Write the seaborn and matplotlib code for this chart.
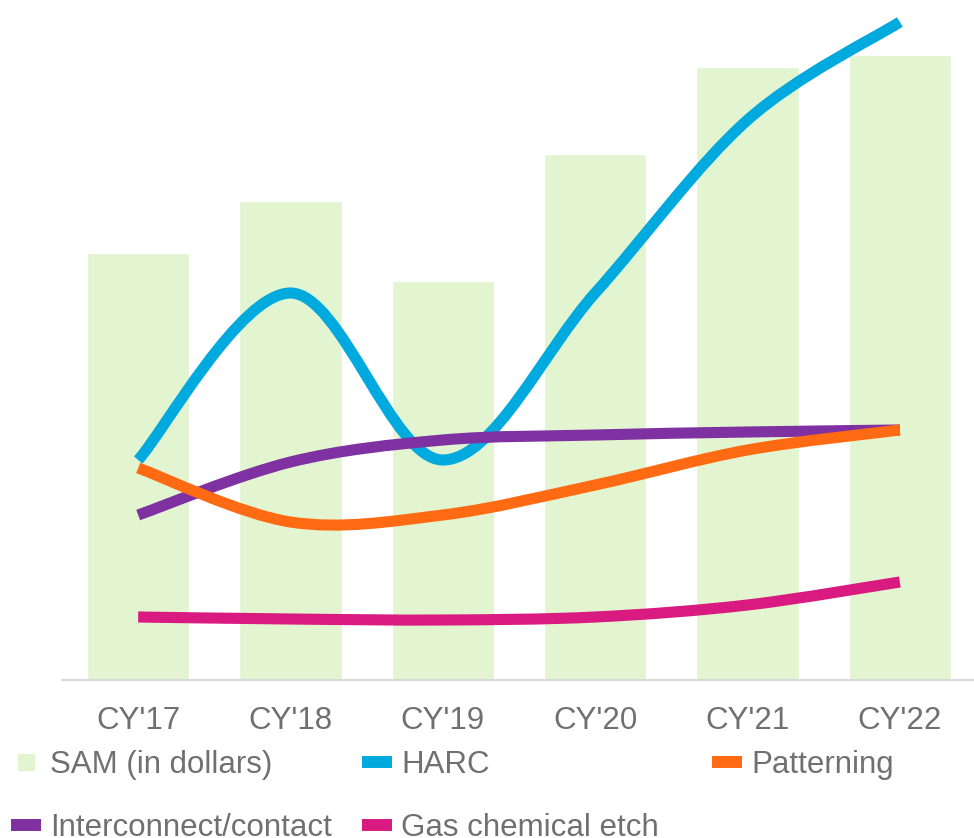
import matplotlib
matplotlib.use("Agg")
import matplotlib.pyplot as plt
import numpy as np
import pandas as pd
import seaborn as sns
from matplotlib.path import Path
from matplotlib.patches import PathPatch
from matplotlib.lines import Line2D

# Data (arbitrary units)
years = ["CY'17", "CY'18", "CY'19", "CY'20", "CY'21", "CY'22"]
sam = [4.27, 4.79, 3.99, 5.26, 6.13, 6.25]
harc = [2.20, 3.87, 2.20, 3.87, 5.60, 6.58]
patterning = [2.12, 1.58, 1.65, 1.95, 2.30, 2.50]
interconnect = [1.65, 2.18, 2.40, 2.45, 2.48, 2.50]
gas_etch = [0.63, 0.61, 0.60, 0.63, 0.75, 0.98]

GREEN = "#e2f5d0"
BLUE = "#00a9de"
ORANGE = "#ff6a13"
PURPLE = "#7f30a1"
MAGENTA = "#d91a80"
TEXT = "#707070"

sns.set_style("white")
plt.rcParams["font.family"] = ["Liberation Sans", "DejaVu Sans"]

fig = plt.figure(figsize=(9.74, 8.38), dpi=100)
ax = fig.add_axes([62 / 974, 1 - 680 / 838, 914 / 974, 680 / 838])

df = pd.DataFrame({"year": years, "sam": sam})
sns.barplot(data=df, x="year", y="sam", color=GREEN, width=0.67, saturation=1, ax=ax)


def smooth_path(xs, ys, t=1 / 6):
    """Excel-like smoothed line: cubic Bezier segments through the points."""
    pts = np.column_stack([xs, ys]).astype(float)
    n = len(pts)
    verts = [pts[0]]
    codes = [Path.MOVETO]
    for i in range(n - 1):
        p0 = pts[max(i - 1, 0)]
        p1 = pts[i]
        p2 = pts[i + 1]
        p3 = pts[min(i + 2, n - 1)]
        verts += [p1 + (p2 - p0) * t, p2 - (p3 - p1) * t, p2]
        codes += [Path.CURVE4] * 3
    return Path(verts, codes)


xpos = np.arange(len(years))
for series, color in [(harc, BLUE), (interconnect, PURPLE), (patterning, ORANGE), (gas_etch, MAGENTA)]:
    patch = PathPatch(smooth_path(xpos, series), fill=False, edgecolor=color,
                      linewidth=8, capstyle="butt", joinstyle="round", zorder=3)
    ax.add_patch(patch)

ax.set_xlim(-0.5, 5.5)
ax.set_ylim(0, 6.8)
ax.set_xlabel("")
ax.set_ylabel("")
ax.set_yticks([])
ax.tick_params(axis="x", length=0, pad=19, labelsize=22.5, labelcolor=TEXT)
for side in ["left", "right", "top"]:
    ax.spines[side].set_visible(False)
ax.spines["bottom"].set_color("#d9d9d9")
ax.spines["bottom"].set_linewidth(1.5)

# Legend
h_sam = Line2D([], [], linestyle="none", marker="s", markersize=11,
               markerfacecolor=GREEN, markeredgecolor=GREEN)
h_harc = Line2D([], [], color=BLUE, linewidth=8.6, solid_capstyle="butt")
h_pat = Line2D([], [], color=ORANGE, linewidth=8.6, solid_capstyle="butt")
h_int = Line2D([], [], color=PURPLE, linewidth=8.6, solid_capstyle="butt")
h_gas = Line2D([], [], color=MAGENTA, linewidth=8.6, solid_capstyle="butt")

leg_kw = dict(frameon=False, fontsize=22.5, labelcolor=TEXT, handlelength=0.96,
              handletextpad=0.3, borderpad=0, borderaxespad=0, loc="upper left",
              labelspacing=1.05, columnspacing=0.95)
fig.legend([h_sam, h_int, h_harc, h_gas],
           ["SAM (in dollars)", "Interconnect/contact", "HARC", "Gas chemical etch"],
           ncol=2, bbox_to_anchor=(11 / 974, 1 - 750 / 838), **leg_kw)
fig.legend([h_pat], ["Patterning"], ncol=1,
           bbox_to_anchor=(712 / 974, 1 - 750 / 838), **leg_kw)

fig.savefig("out.png", dpi=100)
